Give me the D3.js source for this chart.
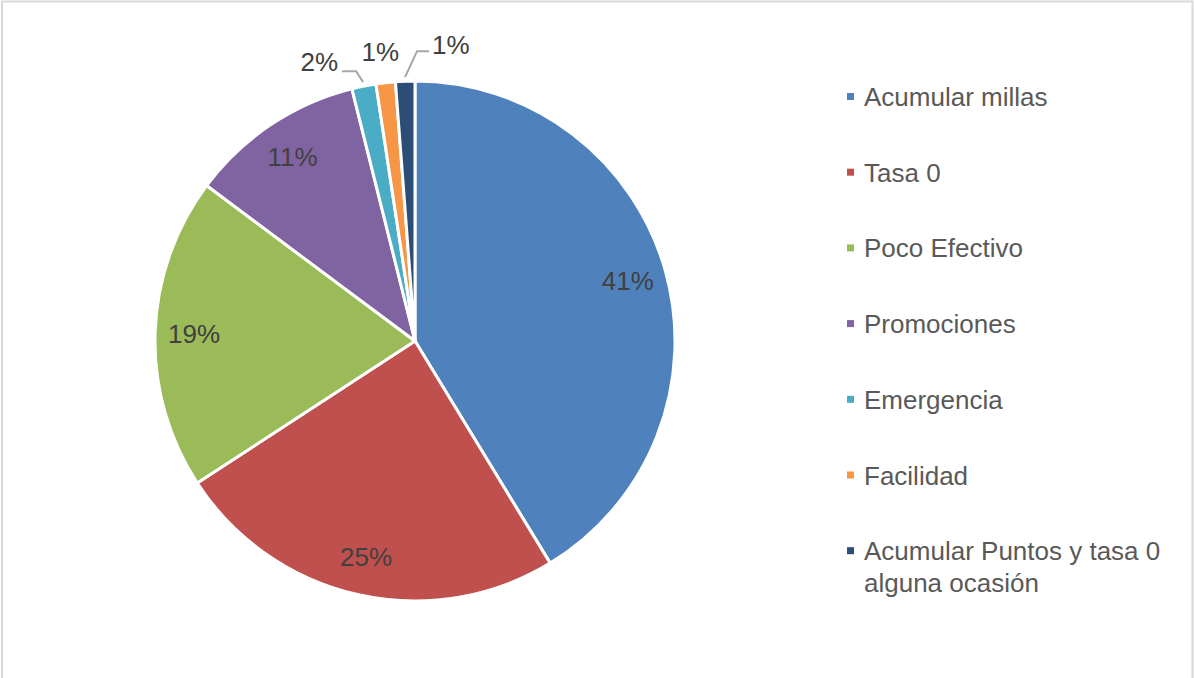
<!DOCTYPE html>
<html>
<head>
<meta charset="utf-8">
<script src="https://cdn.jsdelivr.net/npm/d3@7"></script>
<style>
  html, body { margin: 0; padding: 0; background: #fff; }
  svg { display: block; font-family: "Liberation Sans", Arial, sans-serif; }
</style>
</head>
<body>
<svg id="chart" width="1194" height="678"></svg>
<script>
// Motivos de uso de la tarjeta (porcentaje de respuestas)
const categories = [
  "Acumular millas",
  "Tasa 0",
  "Poco Efectivo",
  "Promociones",
  "Emergencia",
  "Facilidad",
  "Acumular Puntos y tasa 0 alguna ocasión"
];
const values = [41.3, 24.5, 19.4, 10.9, 1.5, 1.2, 1.2];
const colors = ["#4F81BD", "#C0504D", "#9BBB59", "#8064A2", "#4BACC6", "#F79646", "#2C4D75"];

// Labels of the three thin slices sit outside the pie with leader lines
const outsideLabels = {
  4: { leader: [[-7, -11], [-21, -11]], text: [-25, -11], anchor: "end" },
  5: { leader: null, text: [-5, -18], anchor: "middle" },
  6: { leader: [[12, -26], [24, -26]], text: [27, -23], anchor: "start" }
};

const svg = d3.select("#chart");
const W = 1194, H = 678;

// chart frame
svg.append("rect")
  .attr("x", 2).attr("y", 1.5)
  .attr("width", W - 3.5).attr("height", H)
  .attr("fill", "#fff")
  .attr("stroke", "#d9d9d9")
  .attr("stroke-width", 2);

const cx = 415, cy = 341, R = 260;
const data = categories.map((c, i) => ({ name: c, value: values[i], color: colors[i], i }));

const pie = d3.pie().sort(null).value(d => d.value);
const arcs = pie(data);
const arc = d3.arc().innerRadius(0).outerRadius(R);
const labelArc = d3.arc().innerRadius(R * 0.85).outerRadius(R * 0.85);
const edgeArc = d3.arc().innerRadius(R + 4).outerRadius(R + 4);

const g = svg.append("g").attr("transform", `translate(${cx},${cy})`);

g.selectAll("path.slice")
  .data(arcs)
  .join("path")
  .attr("class", "slice")
  .attr("d", arc)
  .attr("fill", d => d.data.color)
  .attr("stroke", "#fff")
  .attr("stroke-width", 3)
  .attr("stroke-linejoin", "round");

const fmt = v => Math.round(v) + "%";

arcs.forEach(a => {
  const o = outsideLabels[a.data.i];
  if (!o) {
    const [x, y] = labelArc.centroid(a);
    g.append("text")
      .attr("x", x).attr("y", y)
      .attr("text-anchor", "middle")
      .attr("dominant-baseline", "central")
      .attr("font-size", 26)
      .attr("fill", "#404040")
      .text(fmt(a.data.value));
  } else {
    const [px, py] = edgeArc.centroid(a);
    if (o.leader) {
      const pts = [[px, py]].concat(o.leader.map(([dx, dy]) => [px + dx, py + dy]));
      g.append("path")
        .attr("d", d3.line()(pts))
        .attr("fill", "none")
        .attr("stroke", "#a6a6a6")
        .attr("stroke-width", 2);
    }
    g.append("text")
      .attr("x", px + o.text[0]).attr("y", py + o.text[1])
      .attr("text-anchor", o.anchor)
      .attr("font-size", 26)
      .attr("fill", "#404040")
      .text(fmt(a.data.value));
  }
});

// legend
const legend = svg.append("g").attr("transform", "translate(847,97)");
const rowStep = 75.7, maxTextWidth = 310, lineH = 32;

data.forEach((d, i) => {
  const row = legend.append("g").attr("transform", `translate(0,${i * rowStep})`);
  row.append("rect")
    .attr("x", 0).attr("y", -4)
    .attr("width", 7).attr("height", 7)
    .attr("fill", d.color);
  const t = row.append("text")
    .attr("x", 17).attr("y", 0)
    .attr("font-size", 26)
    .attr("fill", "#595959")
    .attr("dominant-baseline", "central");
  // wrap long names over several lines
  const words = d.name.split(" ");
  let line = [];
  let tspan = t.append("tspan").attr("x", 17).attr("dy", 0);
  words.forEach(w => {
    line.push(w);
    tspan.text(line.join(" "));
    if (tspan.node().getComputedTextLength() > maxTextWidth && line.length > 1) {
      line.pop();
      tspan.text(line.join(" "));
      line = [w];
      tspan = t.append("tspan").attr("x", 17).attr("dy", lineH).text(w);
    }
  });
});
</script>
</body>
</html>
